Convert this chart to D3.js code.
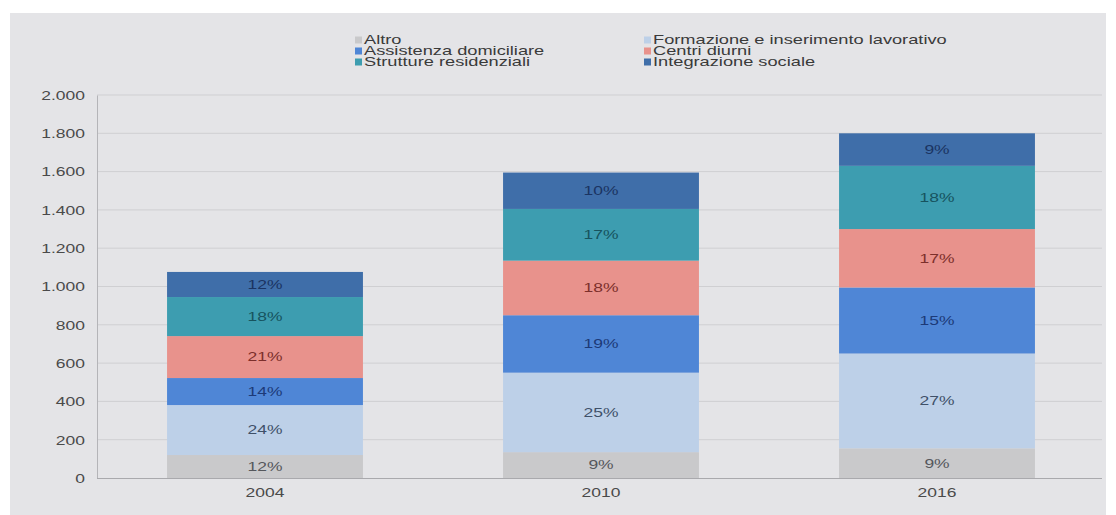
<!DOCTYPE html>
<html>
<head>
<meta charset="utf-8">
<script src="https://cdn.jsdelivr.net/npm/d3@7/dist/d3.min.js"></script>
<style>
  html, body { margin: 0; padding: 0; background: #ffffff; }
  svg { display: block; font-family: "Liberation Sans", Arial, sans-serif; }
</style>
</head>
<body>
<svg id="chart" width="1116" height="515"></svg>
<script>
// ---- data ----
const years = ["2004", "2010", "2016"];
const seriesNames = [
  "Altro",
  "Formazione e inserimento lavorativo",
  "Assistenza domiciliare",
  "Centri diurni",
  "Strutture residenziali",
  "Integrazione sociale"
];
const altro        = [120, 135, 155];
const formazione   = [261, 415, 495];
const assistenza   = [141, 300, 345];
const centriDiurni = [219, 285, 305];
const strutture    = [204, 270, 330];
const integrazione = [131, 190, 170];
// percentage labels as printed on the bars
const pctAltro        = ["12%", "9%", "9%"];
const pctFormazione   = ["24%", "25%", "27%"];
const pctAssistenza   = ["14%", "19%", "15%"];
const pctCentriDiurni = ["21%", "18%", "17%"];
const pctStrutture    = ["18%", "17%", "18%"];
const pctIntegrazione = ["12%", "10%", "9%"];
const yTicks = [0, 200, 400, 600, 800, 1000, 1200, 1400, 1600, 1800, 2000];

const seriesValues = [altro, formazione, assistenza, centriDiurni, strutture, integrazione];
const seriesPct = [pctAltro, pctFormazione, pctAssistenza, pctCentriDiurni, pctStrutture, pctIntegrazione];
const colors = ["#c9c9cb", "#bdd0e8", "#4f86d6", "#e8928c", "#3d9db0", "#3f6ea9"];
const labelColors = ["#55575c", "#3f5068", "#1d3a78", "#7c2f2b", "#17535e", "#1b3462"];

// text in the reference is horizontally stretched
const SX = 1.4, FS = 12.5;

// ---- layout ----
const svg = d3.select("#chart");
svg.append("rect").attr("x", 10).attr("y", 13).attr("width", 1096).attr("height", 502)
  .attr("fill", "#e4e4e7");

const x0 = 97, x1 = 1105, yTop = 95, yBot = 478;
const x = d3.scaleBand().domain(years).range([x0, x1]).paddingInner(0.417).paddingOuter(0.2085);
const y = d3.scaleLinear().domain([0, 2000]).range([yBot, yTop]);

function stext(g, px, py, str, anchor, fill, sx) {
  return g.append("text")
    .attr("transform", `translate(${px},${py}) scale(${sx || SX},1)`)
    .attr("dy", "0.35em")
    .attr("text-anchor", anchor)
    .attr("font-size", FS)
    .attr("fill", fill)
    .text(str);
}

// gridlines
svg.append("g").selectAll("line").data(yTicks.filter(t => t > 0)).join("line")
  .attr("x1", x0).attr("x2", x1 - 3)
  .attr("y1", d => y(d)).attr("y2", d => y(d))
  .attr("stroke", "#cfcfd2").attr("stroke-width", 1);

// y axis
const fmt = d3.formatLocale({decimal: ",", thousands: ".", grouping: [3], currency: ["", "€"]}).format(",d");
const yAxis = svg.append("g").attr("transform", `translate(${x0},0)`)
  .call(d3.axisLeft(y).tickValues(yTicks).tickFormat(fmt).tickSize(0).tickPadding(0));
yAxis.select(".domain").attr("stroke", "#b4b4b8");
yAxis.selectAll(".tick text").remove();
yAxis.selectAll(".tick").each(function(d) {
  stext(d3.select(this), -12, 0, fmt(d), "end", "#4a4a4a");
});

// stacked data
const table = years.map((yr, i) => {
  const row = {year: yr};
  seriesNames.forEach((s, k) => row[s] = seriesValues[k][i]);
  return row;
});
const stack = d3.stack().keys(seriesNames)(table);

const layers = svg.append("g").selectAll("g").data(stack).join("g")
  .attr("fill", (d, k) => colors[k]);
layers.selectAll("rect").data(d => d).join("rect")
  .attr("x", d => x(d.data.year))
  .attr("width", x.bandwidth())
  .attr("y", d => y(d[1]))
  .attr("height", d => y(d[0]) - y(d[1]));

// labels
const lab = svg.append("g");
stack.forEach((layer, k) => {
  layer.forEach((d, i) => {
    stext(lab, x(d.data.year) + x.bandwidth() / 2, (y(d[0]) + y(d[1])) / 2,
      seriesPct[k][i], "middle", labelColors[k]);
  });
});

// x axis
const xAxis = svg.append("g").attr("transform", `translate(0,${yBot})`)
  .call(d3.axisBottom(x).tickSize(0).tickPadding(0));
xAxis.select(".domain").attr("stroke", "#a9a9ad").attr("d", `M${x0},0.5H${x1 - 3}`);
xAxis.selectAll(".tick text").remove();
xAxis.selectAll(".tick").each(function(d) {
  stext(d3.select(this), 0, 15, d, "middle", "#4a4a4a");
});

// legend (2 columns, row-major)
const legend = svg.append("g");
seriesNames.forEach((s, k) => {
  const col = k % 2, row = Math.floor(k / 2);
  const lx = col === 0 ? 355 : 644;
  const ly = 40 + row * 11;
  legend.append("rect").attr("x", lx).attr("y", ly - 3.5).attr("width", 7).attr("height", 7)
    .attr("fill", colors[k]);
  stext(legend, lx + 9, ly, s, "start", "#3a3a3a", 1.52).attr("font-size", 12);
});
</script>
</body>
</html>
